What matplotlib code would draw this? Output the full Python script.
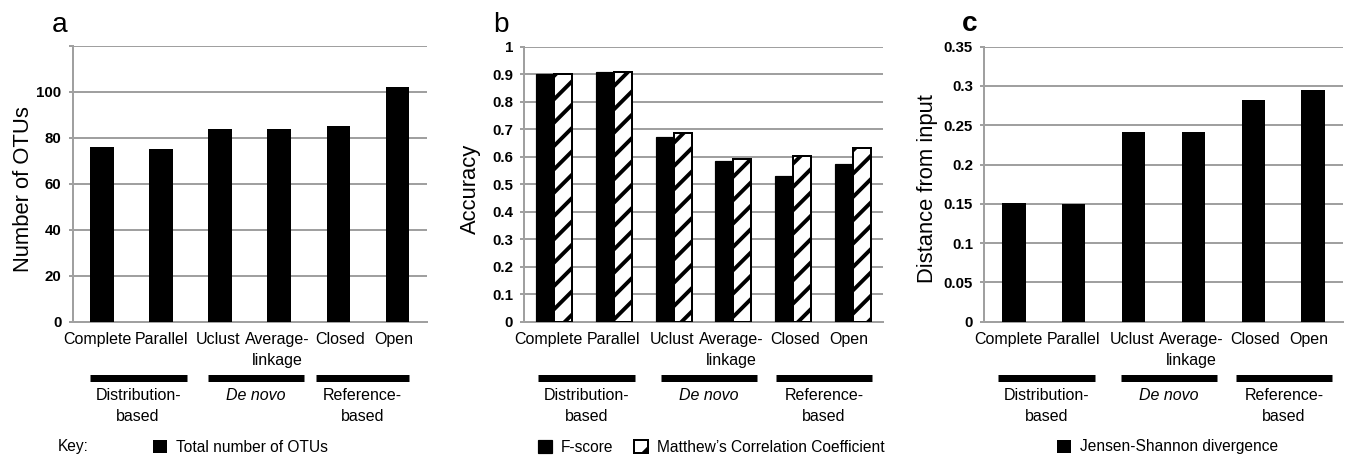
import numpy as np
import matplotlib
matplotlib.use("Agg")
import matplotlib.pyplot as plt
from matplotlib.transforms import blended_transform_factory, ScaledTranslation

# ---- data ----
categories = ["Complete", "Parallel", "Uclust", "Average-\nlinkage", "Closed", "Open"]
group_names = ["Distribution-\nbased", "De novo", "Reference-\nbased"]
otu_counts = [76, 75, 84, 84, 85, 102]
f_score = [0.902, 0.907, 0.670, 0.584, 0.531, 0.573]
mcc = [0.902, 0.908, 0.687, 0.592, 0.603, 0.633]
js_divergence = [0.151, 0.150, 0.241, 0.242, 0.282, 0.295]
a_ticks = [0, 20, 40, 60, 80, 100, 120]
a_ticklabels = ["0", "20", "40", "60", "80", "100", ""]
b_ticks = [0, 0.1, 0.2, 0.3, 0.4, 0.5, 0.6, 0.7, 0.8, 0.9, 1.0]
b_ticklabels = ["0", "0.1", "0.2", "0.3", "0.4", "0.5", "0.6", "0.7", "0.8", "0.9", "1"]
c_ticks = [0, 0.05, 0.1, 0.15, 0.2, 0.25, 0.3, 0.35]
c_ticklabels = ["0", "0.05", "0.1", "0.15", "0.2", "0.25", "0.3", "0.35"]

# ---- figure geometry (pixel based) ----
DPI = 140
W, H = 1350, 458
PT = 72.0 / DPI  # points per pixel

plt.rcParams["font.family"] = ["Liberation Sans", "DejaVu Sans"]
plt.rcParams["hatch.linewidth"] = 2.0

GRID = "#a0a0a0"
fig = plt.figure(figsize=(W / DPI, H / DPI), dpi=DPI)


def fx(px):
    return px / W


def fy(py):
    return 1 - py / H


def make_axes(left, right, top, bottom=321.7):
    return fig.add_axes([fx(left), fy(bottom), fx(right - left), (bottom - top) / H])


ax_a = make_axes(72.5, 427, 46)
ax_b = make_axes(524, 883, 46.7)
ax_c = make_axes(984, 1343, 46.7)

x = np.arange(len(categories))
CAT_FS = 16 * PT
TICK_FS = 15 * PT
YLAB_FS = 22 * PT
LET_FS = 28 * PT
LEG_FS = 15.5 * PT
# small horizontal nudges (px) for the category labels so neighbours don't touch
LABEL_NUDGE = [-5, 0, -2, -2, 2, -4]


def style(ax, ymax, ticks, ticklabels):
    ax.set_xlim(-0.5, len(categories) - 0.5)
    ax.set_ylim(0, ymax)
    ax.set_yticks(ticks)
    ax.set_yticklabels(ticklabels, fontsize=TICK_FS, fontweight="bold")
    ax.yaxis.grid(True, color=GRID, linewidth=2 * PT)
    ax.set_axisbelow(True)
    for s in ("top", "right"):
        ax.spines[s].set_visible(False)
    for s in ("left", "bottom"):
        ax.spines[s].set_color(GRID)
        ax.spines[s].set_linewidth(2 * PT)
    ax.tick_params(axis="y", length=4 * PT, width=2 * PT, color=GRID,
                   pad=7 * PT, direction="out")
    ax.set_xticks(x)
    ax.set_xticklabels(categories, fontsize=CAT_FS)
    ax.tick_params(axis="x", length=0, pad=10 * PT)
    for lbl, dx in zip(ax.get_xticklabels(), LABEL_NUDGE):
        lbl.set_linespacing(1.5)
        lbl.set_transform(lbl.get_transform() +
                          ScaledTranslation(dx / DPI, 0, fig.dpi_scale_trans))


def groups(ax, spans):
    tr = blended_transform_factory(ax.transData, fig.transFigure)
    for (x0, x1), name in zip(spans, group_names):
        ax.plot([x0, x1], [fy(378), fy(378)], transform=tr, color="black",
                linewidth=7 * PT, solid_capstyle="butt", clip_on=False)
        style_kw = dict(fontstyle="italic") if name == "De novo" else {}
        ax.text((x0 + x1) / 2, fy(388), name, transform=tr, ha="center",
                va="top", fontsize=CAT_FS, linespacing=1.5, **style_kw)


# ---- panel a ----
bars_a = ax_a.bar(x, otu_counts, width=0.4, color="black", zorder=3)
style(ax_a, 120, a_ticks, a_ticklabels)
groups(ax_a, [(-0.21, 1.43), (1.79, 3.42), (3.62, 5.19)])
fig.text(fx(23.5), fy(189), "Number of OTUs", rotation=90, ha="center",
         va="center", fontsize=YLAB_FS)

# ---- panel b ----
bw = 0.3
bars_f = ax_b.bar(x - bw / 2, f_score, width=bw, color="black",
                  edgecolor="black", linewidth=1.2 * PT, zorder=3)
bars_m = ax_b.bar(x + bw / 2, mcc, width=bw, color="white", edgecolor="black",
                  hatch="//", linewidth=2 * PT, zorder=3)
style(ax_b, 1.0, b_ticks, b_ticklabels)
groups(ax_b, [(-0.27, 1.36), (1.79, 3.39), (3.72, 5.31)])
fig.text(fx(470), fy(189), "Accuracy", rotation=90, ha="center", va="center",
         fontsize=YLAB_FS)

# ---- panel c ----
bars_c = ax_c.bar(x, js_divergence, width=0.39, color="black", zorder=3)
style(ax_c, 0.35, c_ticks, c_ticklabels)
groups(ax_c, [(-0.27, 1.36), (1.79, 3.39), (3.72, 5.31)])
fig.text(fx(927), fy(189), "Distance from input", rotation=90, ha="center",
         va="center", fontsize=YLAB_FS)

# ---- panel letters ----
fig.text(fx(52), fy(32), "a", fontsize=LET_FS, va="baseline", ha="left")
fig.text(fx(493), fy(32), "b", fontsize=LET_FS, va="baseline", ha="left")
fig.text(fx(962), fy(31), "c", fontsize=LET_FS, va="baseline", ha="left",
         fontweight="bold")

# ---- keys ----
fig.text(fx(58), fy(447), "Key:", fontsize=LEG_FS, va="center", ha="left")
leg_kw = dict(loc="center left", frameon=False, fontsize=LEG_FS,
              handlelength=0.9, handleheight=0.9, handletextpad=0.6,
              borderpad=0, borderaxespad=0, columnspacing=1.3)
fig.legend([bars_a], ["Total number of OTUs"],
           bbox_to_anchor=(fx(153), fy(447)), **leg_kw)
fig.legend([bars_f, bars_m], ["F-score", "Matthew\u2019s Correlation Coefficient"],
           ncol=2, bbox_to_anchor=(fx(538), fy(447)), **leg_kw)
fig.legend([bars_c], ["Jensen-Shannon divergence"],
           bbox_to_anchor=(fx(1057), fy(447)), **leg_kw)

fig.savefig("out.png", dpi=DPI, facecolor="white")
